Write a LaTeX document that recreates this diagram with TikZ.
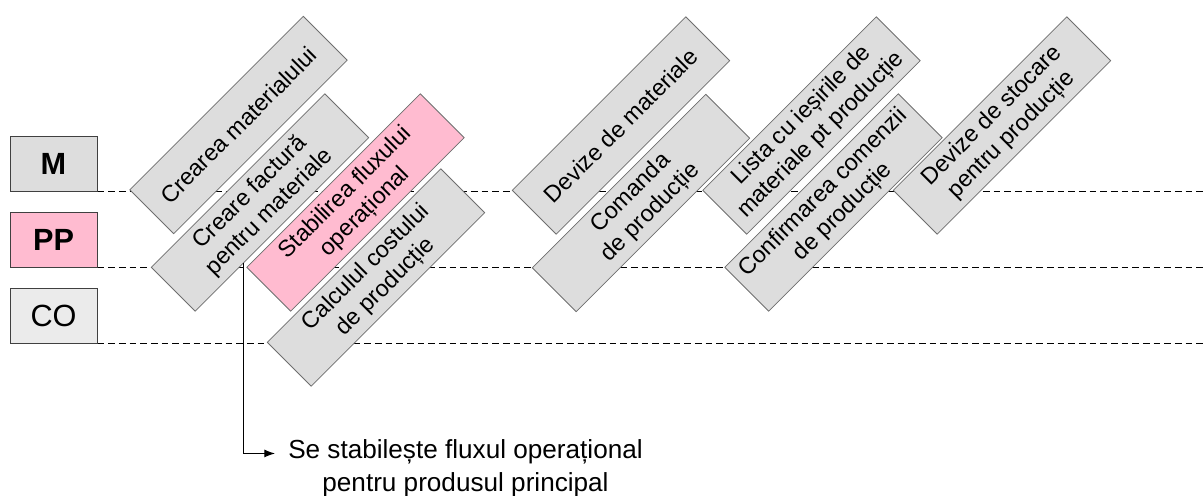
\documentclass[tikz,border=0pt]{standalone}
\usepackage{fontspec}
\setmainfont{Liberation Sans}
\usetikzlibrary{arrows.meta, calc, positioning}
\definecolor{boxgray}{HTML}{DDDDDD}
\definecolor{lanegray}{HTML}{EBEBEB}
\definecolor{ppink}{HTML}{FFBBD0}
\definecolor{edgegray}{HTML}{6E6E6E}
\tikzset{
  lane/.style={draw=black!75, line width=0.75pt, minimum width=65.25pt, minimum height=41.25pt, inner sep=0pt, font=\fontsize{23}{27}\selectfont},
  task/.style={draw=edgegray, fill=boxgray, line width=0.6pt, rotate=45, minimum width=184pt, minimum height=46.5pt, inner sep=0pt, align=center, font=\fontsize{17.5}{20.5}\selectfont},
  swim/.style={dash pattern=on 5pt off 3pt, line width=0.75pt},
  note/.style={align=center, inner sep=0pt, inner xsep=9.75pt, font=\fontsize{19.6}{24.5}\selectfont}
}

\begin{document}
\begin{tikzpicture}[x=0.75pt, y=-0.75pt]
\useasboundingbox (0,0) rectangle (1204,496);
\coordinate (rim) at (1204,0);

% module lanes
\node[lane, fill=boxgray] (laneM) at (53.5,163.5) {\bfseries M};
\node[lane, fill=ppink] (lanePP) at (53.5,239.5) {\bfseries PP};
\node[lane, fill=lanegray] (laneCO) at (53.5,315.5) {CO};

\draw[swim] (laneM.south east) -- (laneM.south east -| rim);
\draw[swim] (lanePP.south east) -- (lanePP.south east -| rim);
\draw[swim] (laneCO.south east) -- (laneCO.south east -| rim);

% steps
\node[task] (cmat) at (238.5,125) {Crearea materialului};
\node[task] (cfact) at (260,202.5) {Creare factură\\pentru materiale};
\node[task, fill=ppink] (flux) at (355.5,202.5) {Stabilirea fluxului\\operațional};
\node[task] (cost) at (376,277.5) {Calculul costului\\de producție};
\node[task] (devmat) at (621,125.5) {Devize de materiale};
\node[task] (comanda) at (641,203) {Comanda\\de producție};
\node[task] (lista) at (811.5,125.5) {Lista cu ieșirile de\\materiale pt producție};
\node[task] (confirm) at (833.5,202.5) {Confirmarea comenzii\\de producție};
\node[task] (devstoc) at (1002,125.5) {Devize de stocare\\pentru producție};

% callout
\node[note, anchor=west] (nota) at (275,468) {Se stabilește fluxul operațional\\pentru produsul principal};
\coordinate (cstart) at ($(cfact.south west)!0.28!(cfact.south east)$);
\draw[-{Latex[length=8pt,width=6pt]}, line width=0.75pt] (cstart) |- ([yshift=10.9pt]nota.west);
\end{tikzpicture}
\end{document}
